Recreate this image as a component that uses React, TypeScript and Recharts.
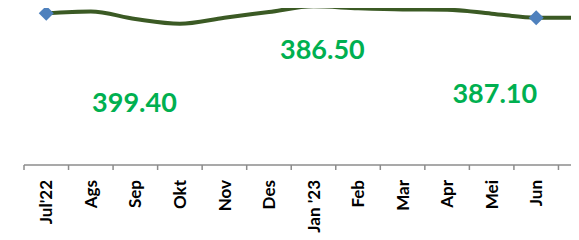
import { LineChart, Line, XAxis, YAxis, ReferenceDot } from "recharts";

// months along the bottom axis
const months = ["Jul'22", "Ags", "Sep", "Okt", "Nov", "Des", "Jan '23", "Feb", "Mar", "Apr", "Mei", "Jun", "Jul"];
// trend line level (arbitrary units)
const level = [151.7, 153.5, 146, 141.3, 147.3, 153, 158.7, 156.7, 155.5, 155.3, 151.3, 147.3, 147.3];
const markedMonths = ["Jul'22", "Jun", "Jul"];

// green call-out numbers
const calloutText = ["399.40", "386.50", "387.10"];
const calloutAt = [2.48, 6.7, 10.57]; // position on the month scale
const calloutLevel = [63, 115.5, 71.5];

const data = months.map((m, i) => ({ pos: i + 0.5, month: m, level: level[i] }));
const centers = months.map((_, i) => i + 0.5);

const FONT = "Lato, 'Open Sans', sans-serif";
const AXIS = "#8C8C8C";

function Diamond(props: any) {
  const { cx, cy, payload, index } = props;
  if (!markedMonths.includes(payload.month)) return <g key={index} />;
  const r = 7.5;
  return (
    <polygon
      key={index}
      points={`${cx},${cy - r} ${cx + r},${cy} ${cx},${cy + r} ${cx - r},${cy}`}
      fill="#4F81BD"
    />
  );
}

// month label plus the tick marks on the category boundaries
function MonthTick({ x, y, payload, width, index }: any) {
  const step = width / months.length;
  const label = months[Math.floor(payload.value)];
  return (
    <g>
      <line x1={x - step / 2} x2={x - step / 2} y1={y} y2={y + 5} stroke={AXIS} strokeWidth={1.5} />
      {index === months.length - 1 && (
        <line x1={x + step / 2} x2={x + step / 2} y1={y} y2={y + 5} stroke={AXIS} strokeWidth={1.5} />
      )}
      <text
        x={0}
        y={0}
        transform={`translate(${x},${y + 15}) rotate(-90)`}
        textAnchor="end"
        dy="0.36em"
        fontFamily={FONT}
        fontWeight={700}
        fontSize={17}
        fill="#000"
      >
        {label}
      </text>
    </g>
  );
}

export default function App() {
  return (
    <div style={{ margin: "-7px -8px -8px -8px", width: 579, height: 240, overflow: "hidden", background: "#fff" }}>
      <LineChart width={610} height={240} data={data} margin={{ top: 0, right: 7, left: 24, bottom: 0 }}>
        <XAxis
          type="number"
          dataKey="pos"
          domain={[0, months.length]}
          ticks={centers}
          tick={<MonthTick />}
          tickLine={false}
          tickSize={0}
          tickMargin={0}
          stroke={AXIS}
          strokeWidth={1.5}
          height={76}
          interval={0}
        />
        <YAxis hide domain={[0, 164]} />
        <Line
          type="monotone"
          dataKey="level"
          stroke="#3B5A24"
          strokeWidth={4}
          dot={<Diamond />}
          activeDot={false}
          isAnimationActive={false}
        />
        {calloutText.map((t, i) => (
          <ReferenceDot
            key={t}
            x={calloutAt[i]}
            y={calloutLevel[i]}
            r={1}
            fill="none"
            stroke="none"
            label={(p: any) => {
              const vb = p.viewBox;
              return (
                <text
                  x={vb.x + vb.width / 2}
                  y={vb.y + vb.height / 2}
                  dy="0.36em"
                  textAnchor="middle"
                  fontFamily={FONT}
                  fontWeight={700}
                  fontSize={27}
                  fill="#00B050"
                >
                  {t}
                </text>
              );
            }}
          />
        ))}
      </LineChart>
    </div>
  );
}
